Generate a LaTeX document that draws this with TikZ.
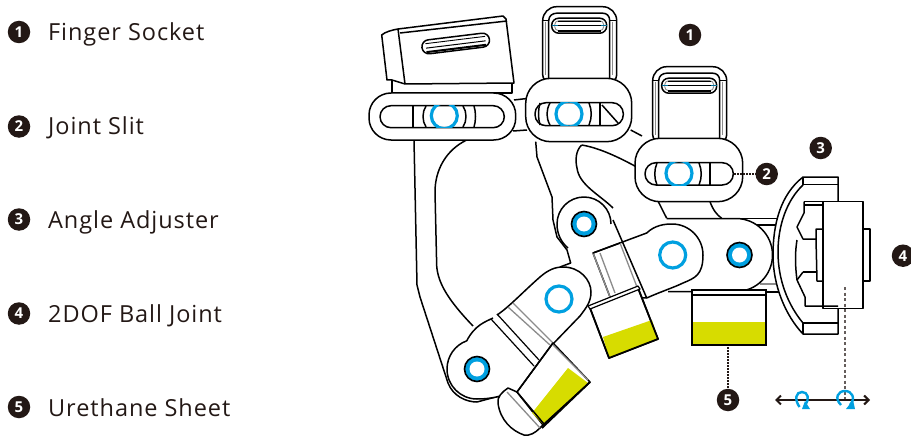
\documentclass[tikz,border=0pt]{standalone}
\usepackage{fontspec}
\setmainfont[LetterSpace=4]{Open Sans}
\usetikzlibrary{arrows.meta}
\definecolor{ink}{HTML}{231815}
\definecolor{cyanb}{HTML}{00A0E0}
\definecolor{lime}{HTML}{D7DC00}
\definecolor{gr}{HTML}{8C8C8C}
\tikzset{
 ol/.style={draw=black,line width=1.5pt,line join=round},
 wh/.style={ol,fill=white},
 thick2/.style={draw=black,line width=2.4pt},
 gl/.style={draw=gr,line width=1.3pt},
 ring/.style={draw=cyanb,line width=3.2pt,fill=white},
 numdot/.style={circle,fill=ink,text=white,inner sep=0pt,minimum size=22.5pt,font=\fontsize{15}{15}\selectfont\bfseries},
 legend/.style={anchor=base west,text=ink,inner sep=0pt,font=\fontsize{23.5}{25}\selectfont},
 dotl/.style={draw=ink,line width=1.2pt,dash pattern=on 1.5pt off 1.5pt},
 dashl/.style={draw=ink!70,line width=1.6pt,dash pattern=on 3pt off 2.5pt},
}
% local socket: origin top-left, 74 x 75
\newcommand{\fingersocket}[2]{%
 \begin{scope}[shift={(#1,#2)}]
  \path[wh] (0,14) arc[start angle=180,end angle=270,radius=14] -- (60,0) arc[start angle=270,end angle=360,radius=14] -- (74,68) .. controls (74,73) and (70,75) .. (67,75) -- (6,75) .. controls (3,75) and (0,72) .. (0,68) -- cycle;
  \draw[ol] (6,75) -- (6,14) .. controls (6,9) and (10,6.5) .. (14,6.5) -- (60,6.5) .. controls (64,6.5) and (67,9) .. (67,14) -- (67,75);
  \draw[ol] (0,14) -- (6,14) (67,14) -- (74,14);
  \draw[gl,line width=.9pt] (2.5,15) -- (2.5,68) (70,15) -- (70,68);
  \draw[ol,rounded corners=7pt] (9,11.5) rectangle (64,26.5);
  \draw[gl,line width=.9pt,rounded corners=4pt] (12,14) rectangle (61,24);
  \draw[draw=black,line width=2pt] (15,24.3) -- (58,24.3);
  \draw[draw=black,line width=1pt] (15,15) -- (58,15);
  \draw[draw=black,line width=1pt] (15,19) -- (58,19);
  \draw[draw=cyanb!70!black,line width=1.2pt] (9,18.5) -- (15,18.5) (58,18.5) -- (64,18.5);
 \end{scope}}
% slider: #1,#2 outer corners; #3,#4 slit corners; #5 blue centre
\newcommand{\slidepart}[6]{%
  \path[wh,rounded corners=#6pt] #1 rectangle #2;
  \path[ol,rounded corners=11pt] #3 rectangle #4;
  \begin{scope}
   \clip #3 rectangle #4;
   \draw[draw=cyanb,line width=3.2pt] #5 circle[radius=13];
  \end{scope}}
\begin{document}
\begin{tikzpicture}[x=1pt,y=-1pt]
\useasboundingbox (0,0) rectangle (911,436);
% legend
\node[numdot] (l1) at (19,32) {1};
\node[numdot] (l2) at (19,126.5) {2};
\node[numdot] (l3) at (19,219.5) {3};
\node[numdot] (l4) at (19,313.5) {4};
\node[numdot] (l5) at (19,407) {5};
\node[legend] (t1) at (48,41) {Finger Socket};
\node[legend] (t2) at (48,135) {Joint Slit};
\node[legend] (t3) at (48,228.5) {Angle Adjuster};
\node[legend] (t4) at (48,322.5) {2DOF Ball Joint};
\node[legend] (t5) at (48,416) {Urethane Sheet};
% left plate
\draw[ol] (414,140) -- (417,285) -- (420,297) -- (448,383) .. controls (453,396) and (466,402) .. (477,402) -- (503,395);
\draw[ol] (466.7,140) .. controls (446,150) and (435,170) .. (435,192) -- (436.7,266) .. controls (438,283) and (448,300) .. (473,326);
% links between sliders
\draw[ol] (514,100) -- (527,98.5) (513,131) -- (527,130);
\draw[ol] (630.7,130) -- (642,136);
% middle plate
\draw[ol] (535.7,141.7) -- (537,157) -- (552,197) -- (553,220) -- (557,237) -- (567,250) -- (570.7,263) -- (560,267);
\draw[ol] (581.7,145) .. controls (576,150) and (575,160) .. (577,168) .. controls (579,185) and (600,195) .. (613,208);
\draw[ol] (581.7,145) .. controls (600,148) and (620,158) .. (636.7,167);
\draw[ol] (584,224) ++(180:27) arc[start angle=180,end angle=360,radius=27];
\draw[ol] (557,224) .. controls (557,235) and (562,243) .. (568,248);
\draw[ol] (658.3,201.7) -- (666.7,218.3);
\draw[ol] (710,201.7) .. controls (713,210) and (717,215) .. (721.7,218.3);
% rods
\draw[ol] (737,218.5) -- (780,218.5) (757,225) -- (778,225);
\draw[gl] (760,284) -- (778,284);
\draw[ol] (750,292) -- (781,292);
% adjuster
\path[wh] (803,177) .. controls (780,195) and (773,225) .. (773,255) .. controls (773,285) and (785,315) .. (803,334) -- (838,334) -- (838,177) -- cycle;
\draw[ol] (803,185) .. controls (787,200) and (778,225) .. (778,252) .. controls (778,280) and (788,305) .. (803,323);
\draw[ol] (803,177) -- (803,185) (803,323) -- (803,334);
\draw[ol] (803,184.5) -- (838,184.5) (803,323) -- (838,323);
\path[wh] (823,201.7) -- (863,201.7) -- (863,308.5) -- (823,308.5) -- cycle;
\draw[ol] (863,229) -- (870,229) -- (870,281) -- (863,281);
\draw[ol] (804,201.7) -- (823,201.7) (804,205) -- (823,205);
\draw[ol] (804,201.7) -- (804,213) -- (797,227) -- (803,239) -- (816,239) -- (816,229) -- (823,229);
\draw[ol] (816,239) -- (817,281) -- (823,281);
\draw[ol] (803,272) -- (817,272);
\draw[ol] (803,272) -- (797,280) -- (805,297) -- (805,306) -- (838,306);
\draw[ol] (797,240) .. controls (795,252) and (795,265) .. (797,280);
% right link
\fill[white] (646,218.5) -- (736,218.5) arc[start angle=-90,end angle=90,radius=36.5] -- (646,291.5) -- cycle;
\draw[ol] (666.7,218.5) -- (736,218.5) arc[start angle=-90,end angle=90,radius=36.5] -- (668,291.5);
\draw[draw=black,line width=1.6pt,fill=cyanb] (739.5,255) circle[radius=12.5];
\fill[white] (739.5,255) circle[radius=7.5];
% upper link
\path[wh] (593,253) -- (646.7,233) .. controls (655,225) and (665,224) .. (672,224) arc[start angle=-90,end angle=0,radius=31] .. controls (703,275) and (695,278) .. (683,283) .. controls (675,287) and (660,292) .. (646.7,298) -- (610,297) -- cycle;
\draw[ol] (613,220) -- (646.7,298);
\draw[gl] (593,253) -- (610,297) (600,253) -- (615,293) (620,243) -- (637,287);
\draw[ring] (672.7,255) circle[radius=13];
\draw[draw=black,line width=1.6pt,fill=cyanb] (584,224) circle[radius=12.5];
\fill[white] (584,224) circle[radius=7.5];
% capsule link mid-lower
\fill[white] (493,318) .. controls (505,312) and (525,290) .. (540,277) .. controls (548,270) and (555,267) .. (563,267) .. controls (580,267) and (591,280) .. (591,292) .. controls (591,302) and (586,308) .. (580,316) -- (552,345) -- (535,365) -- cycle;
\draw[ol] (497,315) .. controls (508,308) and (525,290) .. (540,277) .. controls (548,270) and (555,267) .. (563,267) .. controls (580,267) and (591,280) .. (591,292) .. controls (591,302) and (586,308) .. (580,316) -- (552,345);
% lower-left link
\fill[white] (535,365) -- (512,395) -- (503,395) .. controls (495,398) and (485,399) .. (477,399) arc[start angle=90,end angle=250,radius=30] .. controls (475,325) and (485,322) .. (493,318) -- cycle;
\draw[ol] (512,392) -- (503,395) .. controls (495,398) and (485,399) .. (477,399) arc[start angle=90,end angle=250,radius=30] .. controls (475,325) and (485,322) .. (493,318);
\draw[draw=black,line width=1.2pt] (491,319) -- (534,366) (497,314) -- (539,360);
\draw[gl] (508,307) -- (550,345) (513,303) -- (553,343);
\draw[ring] (559,299) circle[radius=13];
\draw[draw=black,line width=1.6pt,fill=cyanb] (477,369) circle[radius=12.5];
\fill[white] (477,369) circle[radius=7.5];
% middle cup
\path[wh] (590,308) -- (638,288) -- (658,339) -- (609,358) -- cycle;
\path[fill=lime] (603,337) -- (652,320) -- (658,339) -- (609,358) -- cycle;
\draw[draw=black,line width=1.8pt,line join=round] (590,308) -- (638,288) -- (658,339) -- (609,358) -- cycle;
\path[wh,line width=1.2pt] (588,306) -- (638,286) -- (640,289) -- (590,309) -- cycle;
\draw[ol] (593,253) -- (620,243);
% bottom cup
\path[wh] (498,403) .. controls (497,397) and (502,392) .. (508,388) -- (517,392) -- (545,423) -- (540,428) .. controls (535,433) and (530,436) .. (524,435) .. controls (512,431) and (500,420) .. (498,403) -- cycle;
\path[wh] (553,343) -- (590,382) -- (543,425) -- (517,392) -- cycle;
\path[fill=lime] (568,368) -- (588,383) -- (543,424) -- (532,413) -- cycle;
\draw[ol] (553,343) -- (517,392) -- (544,424) (544,424) -- (590,382);
\draw[draw=black,line width=1.8pt] (590,382) -- (542,428);
\draw[gl] (553,345) -- (588,380) (507,392) -- (540,428);
% left socket
\path[wh] (392,80) rectangle (512,93);
\path[wh] (381.7,35) .. controls (385,32) and (392,30) .. (398,29) -- (503,16) -- (506,19) -- (514,83) -- (405,84) -- (392,80) -- (387,80) -- cycle;
\draw[ol] (398,29) -- (405,84);
\draw[ol] (400,33) -- (507,21);
\begin{scope}[shift={(455.7,43.5)},rotate=7]
 \draw[ol,rounded corners=7pt] (-34,-7) rectangle (34,7);
 \draw[draw=black,line width=.9pt] (-30,-3.5) -- (30,-3.5);
 \draw[draw=black,line width=2pt] (-30,5) -- (30,5);
 \draw[draw=black,line width=1pt] (-30,1) -- (30,1);
\end{scope}
% other sockets
\fingersocket{542.7}{6.7}
\fingersocket{652.7}{66.7}
% left slider
\slidepart{(369,93)}{(515.7,140)}{(380,105.7)}{(504.3,127.7)}{(444.3,115.7)}{22}
\draw[thick2] (413,106) -- (413,127);
\draw[ol] (426,106) .. controls (422,112) and (422,121) .. (426,127);
\draw[ol] (463,106) .. controls (467,112) and (467,121) .. (463,127);
\draw[ol] (474,106) .. controls (476,112) and (476,121) .. (474,127);
% middle slider
\slidepart{(525.7,78.3)}{(631.7,141.7)}{(535,102.7)}{(623.3,125.7)}{(569,114)}{25}
\draw[ol] (540,103) .. controls (538,110) and (538,118) .. (540,125);
\draw[ol] (550,103) .. controls (546,110) and (546,118) .. (550,125);
\draw[ol] (589,103) .. controls (592,110) and (592,118) .. (589,125);
\draw[thick2] (600,103) -- (600,125);
\draw[ol] (602,105) -- (618,123);
% right slider
\slidepart{(635,138.3)}{(742.7,201.7)}{(645,162.7)}{(733.3,185)}{(679,173.3)}{25}
\draw[ol] (657,163) .. controls (654,170) and (654,178) .. (657,185);
\draw[ol] (699,163) .. controls (702,170) and (702,178) .. (699,185);
\draw[thick2] (710,163) -- (710,185);
% yellow cup front
\path[wh] (691.7,290) rectangle (766,345);
\path[fill=lime] (691.7,322.3) rectangle (766,345);
\draw[draw=black,line width=2pt] (691.7,290) rectangle (766,345);
\draw[ol,line width=1.1pt] (691.7,295) -- (766,295);
% callouts
\node[numdot] (c1) at (690,35) {1};
\node[numdot] (c2) at (766.7,174) {2};
\node[numdot] (c3) at (820.7,148) {3};
\node[numdot] (c4) at (903,255.7) {4};
\node[numdot] (c5) at (728,400) {5};
\coordinate (s2) at (734,174);
\coordinate (s5) at (728,347);
\coordinate (s4) at (845,287);
\coordinate (a1) at (775,400);
\coordinate (a2) at (870,400);
\coordinate (b4) at (845,399);
\draw[dotl] (s2) -- (c2);
\draw[dotl] (s5) -- (c5);
\draw[dashl] (s4) -- (b4);
\draw[draw=ink,line width=2pt,{Straight Barb[length=4.5pt,width=9pt]}-{Straight Barb[length=4.5pt,width=9pt]}] (a1) -- (a2);
% rotation icons
\draw[draw=cyanb,line width=2.4pt] (799.5,407) .. controls (794,399) and (796,392) .. (802,392) .. controls (808,392) and (810,399) .. (805,405);
\fill[cyanb] (802,409) -- (810,409) -- (805,401) -- cycle;
\draw[draw=cyanb,line width=2.4pt] (841,405) .. controls (834,398) and (838,391) .. (845,391) .. controls (852,391) and (856,398) .. (850,405);
\fill[cyanb] (846,409) -- (855,409) -- (853,400) -- cycle;
\end{tikzpicture}
\end{document}
